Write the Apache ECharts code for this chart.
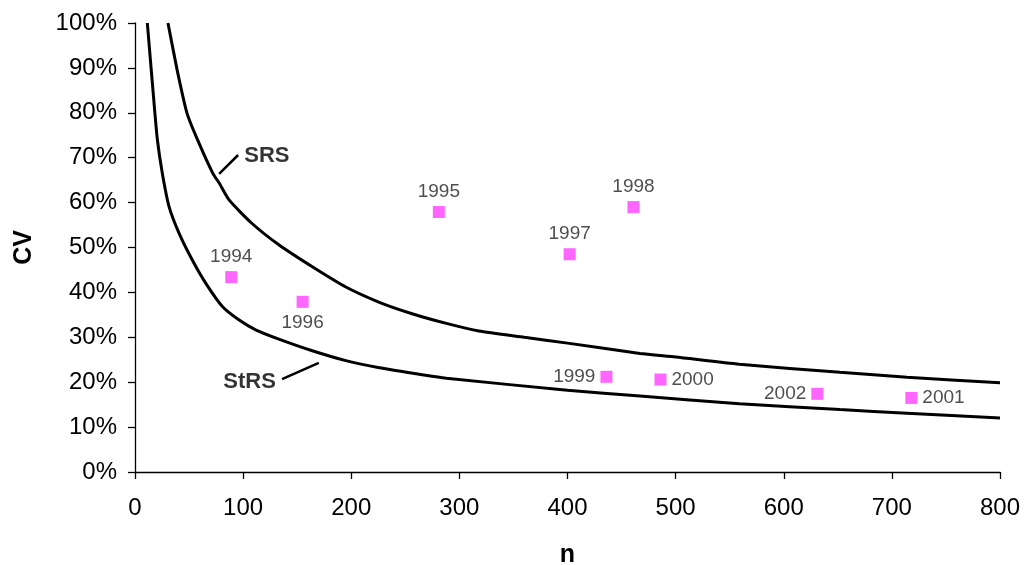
<!DOCTYPE html>
<html><head><meta charset="utf-8">
<script src="https://cdn.jsdelivr.net/npm/echarts@6/dist/echarts.min.js"></script>
<style>html,body{margin:0;padding:0;background:#fff}#c{width:1028px;height:565px}</style>
</head><body><div id="c"></div>
<script>
// Survey years (scatter), sample size n and CV (%)
const years = ['1994','1995','1996','1997','1998','1999','2000','2001','2002'];
const yearN  = [89, 281, 155, 402, 461, 436, 486, 718, 631];
const yearCV = [43.4, 57.9, 37.9, 48.5, 59.0, 21.2, 20.6, 16.5, 17.4];
const labelPos = ['top','top','bottom','top','top','left','right','right','left'];

// Curves: n and CV (%)
const srsN  = [30.5, 39, 48, 58, 72, 78, 87, 108, 133, 164, 195, 226, 257, 288, 318, 360, 400, 467, 500, 559, 652, 714, 800];
const srsCV = [100, 89.5, 80, 73.9, 66.5, 64.3, 60.6, 55.4, 50.6, 45.7, 41.2, 37.8, 35.2, 33.1, 31.4, 30.0, 28.7, 26.4, 25.6, 24.0, 22.2, 21.1, 19.9];
const strsN  = [11.4, 17.6, 20.7, 25.3, 31.5, 40.7, 53, 65.5, 81, 96, 112, 133, 164, 195, 226, 257, 288, 400, 467, 559, 652, 714, 800];
const strsCV = [100, 82.2, 74, 66.5, 59.1, 53.2, 47.2, 42, 36.8, 33.9, 31.6, 29.6, 27.0, 24.8, 23.2, 22, 20.9, 18.2, 16.9, 15.2, 13.9, 13.1, 12.0];

const xTicks = [0, 100, 200, 300, 400, 500, 600, 700, 800];
const yTicks = [0, 10, 20, 30, 40, 50, 60, 70, 80, 90, 100];

// Curve annotations (data coords)
const srsLeader  = [[77.8, 66.4], [95.4, 70.6]];
const strsLeader = [[136, 20.7], [170, 24.3]];
const curveLabels = [{name:'SRS', value:[122, 70.4]}, {name:'StRS', value:[106, 20.0]}];

const zip = (a, b) => a.map((v, i) => [v, b[i]]);
const font = 'Liberation Sans, Arial, sans-serif';

const chart = echarts.init(document.getElementById('c'));
chart.setOption({
  animation: false,
  grid: {left: 135, right: 28, top: 23, bottom: 93, containLabel: false, outerBoundsMode: 'none'},
  xAxis: {
    type: 'value', min: xTicks[0], max: xTicks[xTicks.length - 1], interval: 100,
    name: 'n', nameLocation: 'middle', nameGap: 71,
    nameTextStyle: {fontFamily: font, fontWeight: 'bold', fontSize: 25, color: '#000'},
    axisLine: {lineStyle: {color: '#000', width: 1.3}},
    axisTick: {show: true, length: 7, lineStyle: {color: '#000', width: 1.3}},
    axisLabel: {fontFamily: font, fontSize: 24, color: '#000', margin: 24},
    splitLine: {show: false}
  },
  yAxis: {
    type: 'value', min: yTicks[0], max: yTicks[yTicks.length - 1], interval: 10,
    name: 'CV', nameLocation: 'middle', nameGap: 98, nameRotate: 90,
    nameTextStyle: {fontFamily: font, fontWeight: 'bold', fontSize: 25, color: '#000'},
    axisLine: {show: true, lineStyle: {color: '#000', width: 1.3}},
    axisTick: {show: true, length: 7, lineStyle: {color: '#000', width: 1.3}},
    axisLabel: {fontFamily: font, fontSize: 24, color: '#000', margin: 18, formatter: '{value}%'},
    splitLine: {show: false}
  },
  series: [
    {type: 'line', data: zip(srsN, srsCV), smooth: 0.2, symbol: 'none',
     lineStyle: {color: '#000', width: 3}},
    {type: 'line', data: zip(strsN, strsCV), smooth: 0.2, symbol: 'none',
     lineStyle: {color: '#000', width: 3}},
    {type: 'line', data: srsLeader, symbol: 'none', lineStyle: {color: '#000', width: 2.5}},
    {type: 'line', data: strsLeader, symbol: 'none', lineStyle: {color: '#000', width: 2.5}},
    {type: 'scatter', data: curveLabels, symbolSize: 0,
     label: {show: true, position: 'inside', formatter: p => p.name,
             fontFamily: font, fontWeight: 'bold', fontSize: 22, color: '#000'}},
    {type: 'scatter', symbol: 'rect', symbolSize: 12,
     itemStyle: {color: '#ff40ff'},
     data: years.map((y, i) => ({name: y, value: [yearN[i], yearCV[i]],
        label: {position: labelPos[i]}})),
     label: {show: true, formatter: p => p.name, fontFamily: font, fontSize: 19,
             color: '#222', distance: 5}}
  ]
});
</script></body></html>
